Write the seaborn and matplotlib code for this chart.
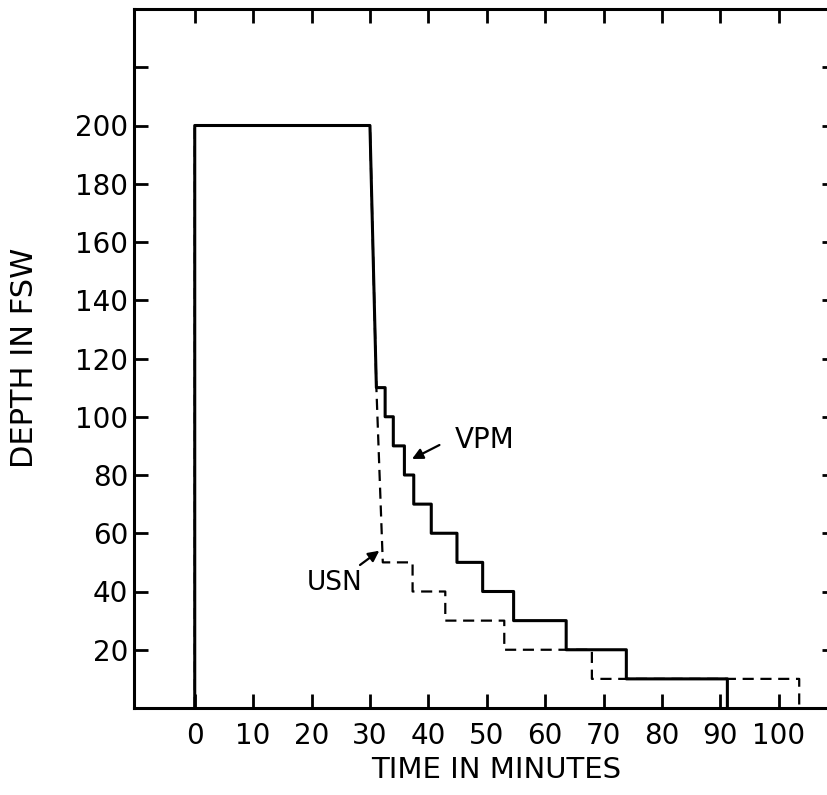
import matplotlib
matplotlib.use("Agg")
import matplotlib.pyplot as plt
import seaborn as sns
import pandas as pd

# ---- data: dive profiles (vertices of the step curves) ----
vpm_time = [0, 0, 30, 31.1, 32.6, 32.6, 34.0, 34.0, 35.9, 35.9, 37.5, 37.5, 40.5, 40.5,
            44.9, 44.9, 49.3, 49.3, 54.6, 54.6, 63.6, 63.6, 73.9, 73.9, 91.2, 91.2]
vpm_depth = [0, 200, 200, 110, 110, 100, 100, 90, 90, 80, 80, 70, 70, 60,
             60, 50, 50, 40, 40, 30, 30, 20, 20, 10, 10, 0]
usn_time = [0, 0, 30, 31.1, 32.2, 37.3, 37.3, 42.9, 42.9, 53.0, 53.0, 68.0, 68.0, 103.5, 103.5]
usn_depth = [0, 200, 200, 110, 50, 50, 40, 40, 30, 30, 20, 20, 10, 10, 0]

x_ticks = [0, 10, 20, 30, 40, 50, 60, 70, 80, 90, 100]
y_ticks = [20, 40, 60, 80, 100, 120, 140, 160, 180, 200, 220, 240]
y_labels = ["20", "40", "60", "80", "100", "120", "140", "160", "180", "200", "", ""]

df = pd.concat([
    pd.DataFrame({"time": vpm_time, "depth": vpm_depth, "profile": "VPM",
                  "order": range(len(vpm_time))}),
    pd.DataFrame({"time": usn_time, "depth": usn_depth, "profile": "USN",
                  "order": range(len(usn_time))}),
])

sns.set_theme(style="ticks")
plt.rcParams["font.family"] = ["DejaVu Sans"]

fig = plt.figure(figsize=(8.28, 7.95), dpi=100)
W, H = 828, 795
left, right, top, bottom = 134, 836, 9, 708
ax = fig.add_axes([left / W, 1 - bottom / H, (right - left) / W, (bottom - top) / H])

sns.lineplot(data=df[df.profile == "USN"], x="time", y="depth", sort=False,
             estimator=None, color="black", lw=1.6, ax=ax, zorder=2)
ax.lines[-1].set_dashes([5, 3])
sns.lineplot(data=df[df.profile == "VPM"], x="time", y="depth", sort=False,
             estimator=None, color="black", lw=2.2, ax=ax, zorder=3)

ax.set_xlim(-10.4, 109.8)
ax.set_ylim(0, 240)
ax.set_xticks(x_ticks)
ax.set_xticklabels([str(t) for t in x_ticks])
ax.set_yticks(y_ticks)
ax.set_yticklabels(y_labels)
ax.tick_params(axis="both", direction="in", length=10, width=2, color="black",
               labelsize=20, top=True, right=True, labelcolor="black")
ax.tick_params(axis="x", pad=10)
ax.tick_params(axis="y", pad=4)
for s in ax.spines.values():
    s.set_visible(True)
    s.set_linewidth(2.2)
    s.set_color("black")

ax.set_xlabel("TIME IN MINUTES", fontsize=21, color="black")
ax.set_ylabel("DEPTH IN FSW", fontsize=22, color="black")
ax.xaxis.set_label_coords((496 - left) / (right - left), -(770 - bottom) / (bottom - top))
ax.yaxis.set_label_coords(-(134 - 25) / (right - left), (bottom - 358) / (bottom - top))
ax.xaxis.label.set_va("center")
ax.yaxis.label.set_va("center")

ax.annotate("", xy=(37.2, 85.5), xytext=(41.9, 90.3),
            arrowprops=dict(arrowstyle="-|>", color="black", lw=1.6, mutation_scale=16,
                            shrinkA=0, shrinkB=0))
ax.text(49.6, 92, "VPM", fontsize=20, ha="center", va="center", color="black")
ax.annotate("", xy=(31.6, 54.0), xytext=(28.3, 49.1),
            arrowprops=dict(arrowstyle="-|>", color="black", lw=1.6, mutation_scale=16,
                            shrinkA=0, shrinkB=0))
ax.text(24.0, 43.0, "USN", fontsize=19, ha="center", va="center", color="black")

fig.savefig("out.png", dpi=100)
